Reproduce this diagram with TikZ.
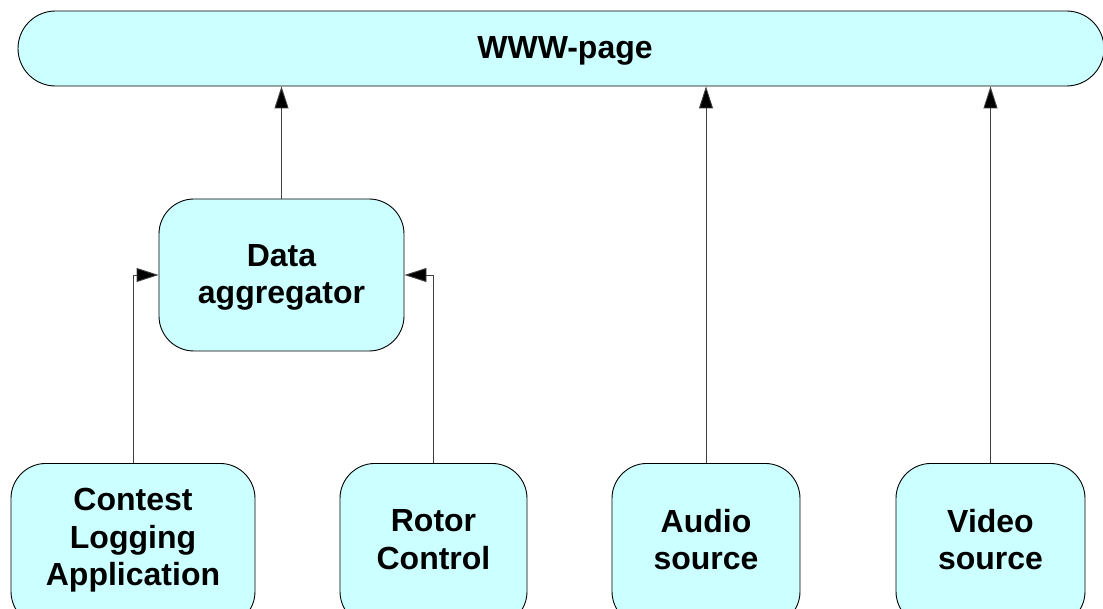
\documentclass[tikz,border=0pt]{standalone}
\usepackage{fontspec}
\setmainfont{Liberation Sans}
\usetikzlibrary{arrows.meta}
\definecolor{boxfill}{HTML}{CCFFFF}
\definecolor{linegray}{HTML}{404040}
\begin{document}
\begin{tikzpicture}[x=1pt,y=-1pt,
  box/.style={draw=black, fill=boxfill, line width=0.9pt, rounded corners=35pt, inner sep=0pt},
  lbl/.style={font=\fontsize{32}{37.5}\selectfont\bfseries, align=center, inner sep=0pt},
  conn/.style={draw=linegray, line width=0.9pt, -{Triangle[length=22pt,width=14pt,fill=black]}}]
\useasboundingbox (0,0) rectangle (1103,609);
\clip (0,0) rectangle (1103,609);
% top bar
\node[box, rounded corners=37.5pt, minimum width=1086pt, minimum height=75pt] (www) at (561,48.5) {};
\node[lbl] (wwwT) at (565,50.5) {WWW-page};
% aggregator
\node[box, minimum width=245pt, minimum height=152pt] (agg) at (281.5,275) {};
\node[lbl] (aggT) at ([yshift=-2.5pt]agg.center) {Data\\aggregator};
% bottom boxes
\node[box, minimum width=244pt, minimum height=163pt, anchor=north] (contest) at (133,463) {};
\node[lbl] (contestT) at ([yshift=4.5pt]contest.center) {Contest\\Logging\\Application};
\node[box, minimum width=187pt, minimum height=163pt, anchor=north] (rotor) at (433.5,463) {};
\node[lbl] (rotorT) at ([yshift=5.5pt]rotor.center) {Rotor\\Control};
\node[box, minimum width=188pt, minimum height=163pt, anchor=north] (audio) at (706,463) {};
\node[lbl] (audioT) at ([yshift=5.5pt]audio.center) {Audio\\source};
\node[box, minimum width=189pt, minimum height=163pt, anchor=north] (video) at (990.5,463) {};
\node[lbl] (videoT) at ([yshift=5.5pt]video.center) {Video\\source};
% connectors
\draw[conn] (agg.north) -- (agg.north |- www.south);
\draw[conn] (audio.north) -- (audio.north |- www.south);
\draw[conn] (video.north) -- (video.north |- www.south);
\draw[conn] (contest.north) |- (agg.west);
\draw[conn] (rotor.north) |- (agg.east);
\end{tikzpicture}
\end{document}
